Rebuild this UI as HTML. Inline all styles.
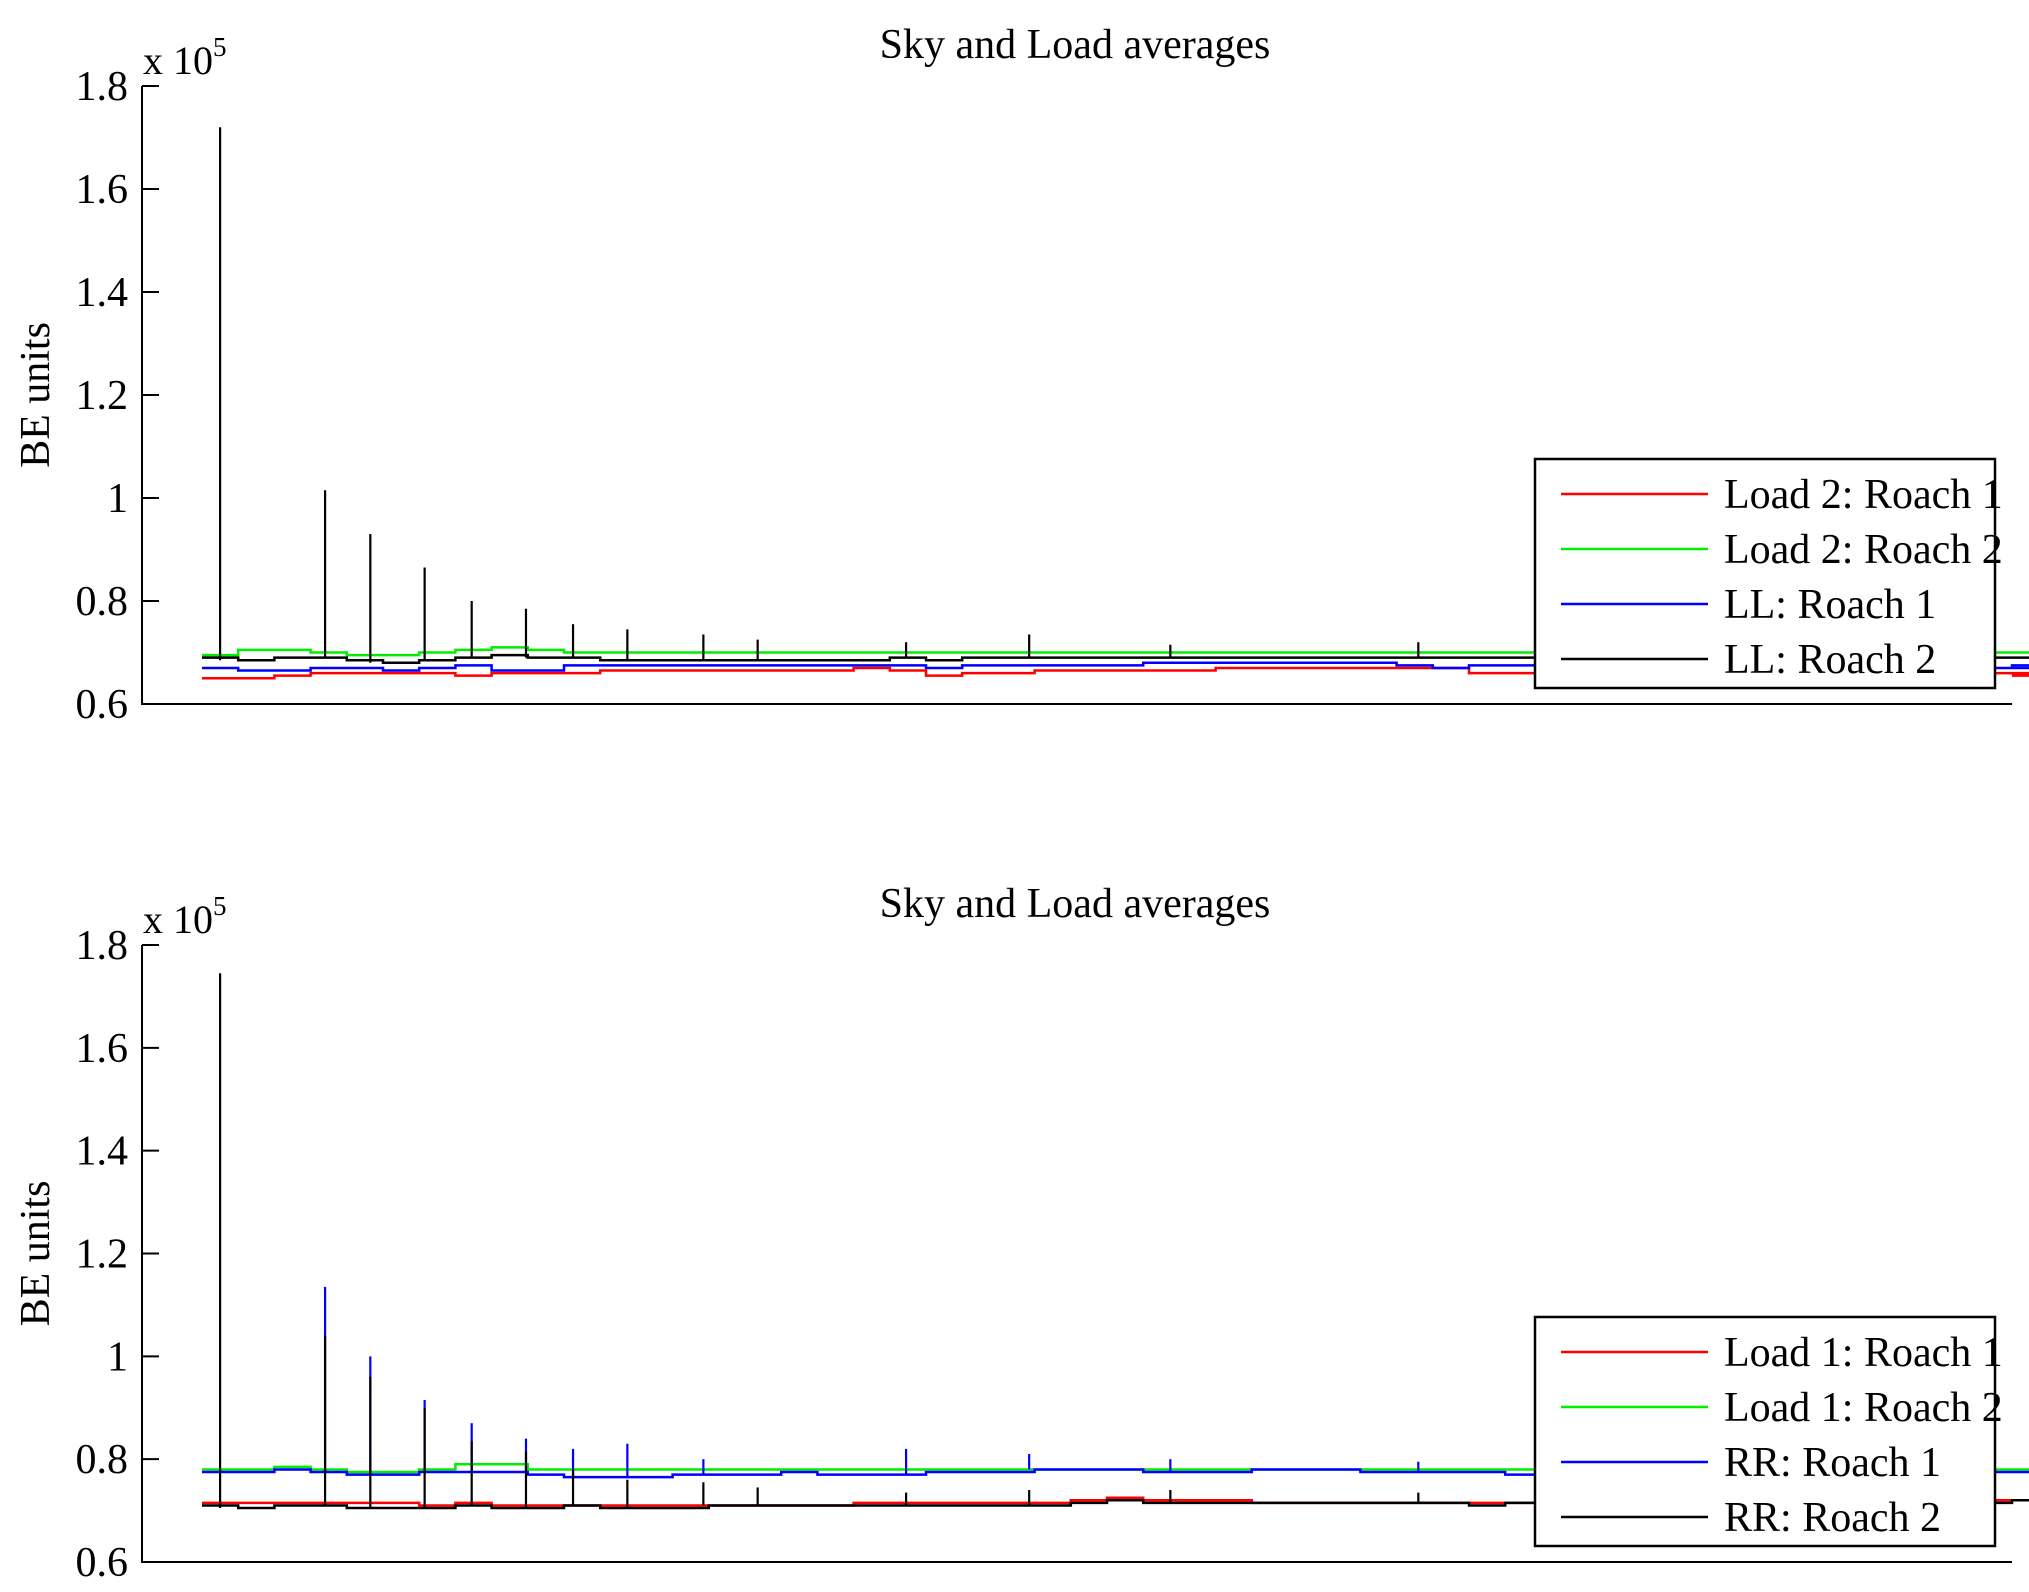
<!DOCTYPE html>
<html><head><meta charset="utf-8"><style>
body{margin:0;background:#fff}
svg{display:block;font-family:"Liberation Serif",serif}
</style></head><body>
<svg id="chart" width="2029" height="1592" viewBox="0 0 2029 1592"></svg>
<script>
// data (units of 1e5 BE), sampled every 20 samples over 0..1000
const sampleStep = 20;
const yTicks = [0.6, 0.8, 1.0, 1.2, 1.4, 1.6, 1.8];
const yTickLabels = ["0.6","0.8","1","1.2","1.4","1.6","1.8"];
const topNames = ["Load 2: Roach 1","Load 2: Roach 2","LL: Roach 1","LL: Roach 2"];
const botNames = ["Load 1: Roach 1","Load 1: Roach 2","RR: Roach 1","RR: Roach 2"];
const colors = ["#ff0000","#00ee00","#0000ff","#000000"];
const topRed   = [0.65,0.65,0.655,0.66,0.66,0.66,0.66,0.655,0.66,0.66,0.66,0.665,0.665,0.665,0.665,0.665,0.665,0.665,0.67,0.665,0.655,0.66,0.66,0.665,0.665,0.665,0.665,0.665,0.67,0.67,0.67,0.67,0.67,0.67,0.67,0.66,0.66,0.665,0.665,0.665,0.665,0.665,0.665,0.665,0.665,0.665,0.66,0.66,0.66,0.66,0.66,0.655];
const topGreen = [0.695,0.705,0.705,0.7,0.695,0.695,0.7,0.705,0.71,0.705,0.7,0.7,0.7,0.7,0.7,0.7,0.7,0.7,0.7,0.7,0.7,0.7,0.7,0.7,0.7,0.7,0.7,0.7,0.7,0.7,0.7,0.7,0.7,0.7,0.7,0.7,0.7,0.7,0.7,0.7,0.7,0.7,0.7,0.7,0.7,0.7,0.7,0.7,0.7,0.7,0.7,0.7];
const topBlue  = [0.67,0.665,0.665,0.67,0.67,0.665,0.67,0.675,0.665,0.665,0.675,0.675,0.675,0.675,0.675,0.675,0.675,0.675,0.675,0.675,0.67,0.675,0.675,0.675,0.675,0.675,0.68,0.68,0.68,0.68,0.68,0.68,0.68,0.675,0.67,0.675,0.675,0.675,0.675,0.675,0.675,0.675,0.675,0.675,0.675,0.675,0.675,0.67,0.675,0.67,0.675,0.67];
const topBlack = [0.69,0.685,0.69,0.69,0.685,0.68,0.685,0.69,0.695,0.69,0.69,0.685,0.685,0.685,0.685,0.685,0.685,0.685,0.685,0.69,0.685,0.69,0.69,0.69,0.69,0.69,0.69,0.69,0.69,0.69,0.69,0.69,0.69,0.69,0.69,0.69,0.69,0.69,0.69,0.69,0.69,0.695,0.69,0.69,0.69,0.69,0.69,0.69,0.695,0.69,0.69,0.69];
const topSpikeX = [10,68,93,123,149,179,205,235,277,307,389,457,535,672,900];
const topSpikeY = [1.72,1.015,0.93,0.865,0.80,0.785,0.755,0.745,0.735,0.725,0.72,0.735,0.715,0.72,0.715];
const botRed   = [0.715,0.715,0.715,0.715,0.715,0.715,0.71,0.715,0.71,0.71,0.71,0.71,0.71,0.71,0.71,0.71,0.71,0.71,0.715,0.715,0.715,0.715,0.715,0.715,0.72,0.725,0.72,0.72,0.72,0.715,0.715,0.715,0.715,0.715,0.715,0.715,0.715,0.715,0.715,0.715,0.715,0.715,0.715,0.715,0.715,0.72,0.715,0.715,0.72,0.72,0.72,0.72];
const botGreen = [0.78,0.78,0.785,0.78,0.775,0.775,0.78,0.79,0.79,0.78,0.78,0.78,0.78,0.78,0.78,0.78,0.78,0.78,0.78,0.78,0.78,0.78,0.78,0.78,0.78,0.78,0.78,0.78,0.78,0.78,0.78,0.78,0.78,0.78,0.78,0.78,0.78,0.78,0.78,0.78,0.78,0.78,0.78,0.78,0.78,0.78,0.78,0.78,0.78,0.78,0.78,0.78];
const botBlue  = [0.775,0.775,0.78,0.775,0.77,0.77,0.775,0.775,0.775,0.77,0.765,0.765,0.765,0.77,0.77,0.77,0.775,0.77,0.77,0.77,0.775,0.775,0.775,0.78,0.78,0.78,0.775,0.775,0.775,0.78,0.78,0.78,0.775,0.775,0.775,0.775,0.77,0.77,0.775,0.775,0.775,0.775,0.775,0.775,0.78,0.775,0.78,0.775,0.775,0.775,0.775,0.775];
const botBlack = [0.71,0.705,0.71,0.71,0.705,0.705,0.705,0.71,0.705,0.705,0.71,0.705,0.705,0.705,0.71,0.71,0.71,0.71,0.71,0.71,0.71,0.71,0.71,0.71,0.715,0.72,0.715,0.715,0.715,0.715,0.715,0.715,0.715,0.715,0.715,0.71,0.715,0.715,0.715,0.71,0.715,0.715,0.715,0.715,0.715,0.715,0.715,0.715,0.715,0.715,0.72,0.72];
const botBlackSpikeX = [10,68,93,123,149,179,205,235,277,307,389,457,535,672,900];
const botBlackSpikeY = [1.745,1.04,0.96,0.90,0.835,0.815,0.78,0.76,0.755,0.745,0.735,0.74,0.74,0.735,0.74];
const botBlueSpikeX = [68,93,123,149,179,205,235,277,389,457,535,672];
const botBlueSpikeY = [1.135,1.0,0.915,0.87,0.84,0.82,0.83,0.80,0.82,0.81,0.80,0.795];

const NS="http://www.w3.org/2000/svg";
const svg=document.getElementById('chart');
function mk(tag,attrs,parent){const e=document.createElementNS(NS,tag);for(const k in attrs)e.setAttribute(k,attrs[k]);(parent||svg).appendChild(e);return e;}
const X0=142,X1=2012,DX0=202,DX1=2012;
function xs(s){return DX0+(DX1-DX0)*s/1000;}

function panel(top,bottom,names,series,spikes,prefix){
  const g=mk('g',{});
  
  
  const ys=v=>bottom-(v-0.6)/1.2*(bottom-top);
  series.forEach((arr,i)=>{
    let d='';
    arr.forEach((v,j)=>{const x=xs(j*sampleStep),y=ys(v);
      if(j===0)d+='M'+x+' '+y;else{d+='H'+x+'V'+y;}});
    d+='H'+xs(1000);
    const p=mk('path',{d:d,fill:'none',stroke:colors[i],'stroke-width':2.5},g);
    
    
  });
  spikes.forEach(sp=>{
    sp.x.forEach((sx,k)=>{
      const base=sp.base[Math.min(sp.base.length-1,Math.round(sx/sampleStep))];
      const l=mk('line',{x1:xs(sx),x2:xs(sx),y1:ys(base),y2:ys(sp.y[k]),stroke:sp.color,'stroke-width':2.2},g);
      
      
    });
  });
  const ya=mk('line',{x1:X0,x2:X0,y1:top,y2:bottom+1,stroke:'#000','stroke-width':2},g);
  
  
  const xa=mk('line',{x1:X0-1,x2:X1,y1:bottom,y2:bottom,stroke:'#000','stroke-width':2},g);
  
  
  yTicks.forEach((t,i)=>{
    const y=ys(t);
    const tk=mk('line',{x1:X0,x2:X0+17,y1:y,y2:y,stroke:'#000','stroke-width':2},g);
    
    
    const tl=mk('text',{x:128,y:y+14,'text-anchor':'end','font-size':42},g);
    tl.textContent=yTickLabels[i];
    
    
  });
  const ex=mk('text',{x:143,y:top-12,'font-size':40},g);
  ex.innerHTML='x 10<tspan dy="-18" font-size="27">5</tspan>';
  
  
  const tt=mk('text',{x:1075,y:top-28,'text-anchor':'middle','font-size':42},g);
  tt.textContent='Sky and Load averages';
  
  
  const yl=mk('text',{x:0,y:0,'text-anchor':'middle','font-size':42,transform:'translate(49,'+((top+bottom)/2)+') rotate(-90)'},g);
  yl.textContent='BE units';
  
  
  const lt=bottom-245, lg=mk('g',{},g);
  
  
  mk('rect',{x:1535,y:lt,width:460,height:229,fill:'#fff',stroke:'#000','stroke-width':2.5},lg);
  names.forEach((n,i)=>{
    const cy=lt+35+i*55;
    const ln=mk('line',{x1:1561,x2:1708,y1:cy,y2:cy,stroke:colors[i],'stroke-width':2.5},lg);
    
    
    const t=mk('text',{x:1724,y:cy+14,'font-size':42},lg);
    t.textContent=n;
    
    
  });
}
panel(86,704,topNames,[topRed,topGreen,topBlue,topBlack],
  [{x:topSpikeX,y:topSpikeY,base:topBlack,color:'#000'}],'top');
panel(945,1562,botNames,[botRed,botGreen,botBlue,botBlack],
  [{x:botBlueSpikeX,y:botBlueSpikeY,base:botBlue,color:'#0000ff'},{x:botBlackSpikeX,y:botBlackSpikeY,base:botBlack,color:'#000'}],'bottom');
</script>
</body></html>
